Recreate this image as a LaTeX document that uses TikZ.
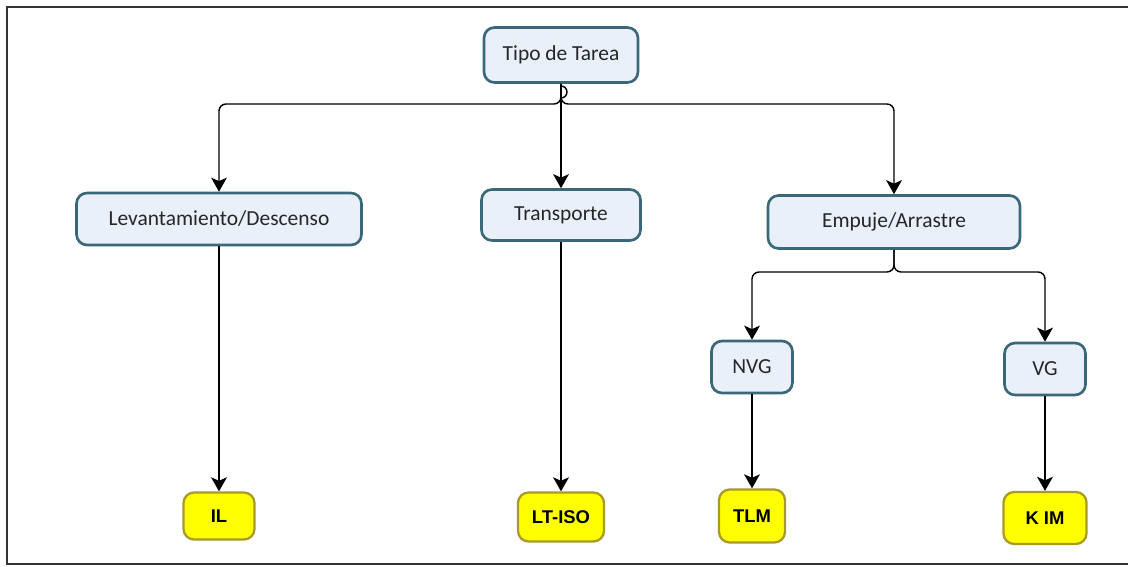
\documentclass[tikz,border=0pt]{standalone}
\usepackage{fontspec}
\newfontfamily\boxfont{Carlito}
\newfontfamily\tagfont{Liberation Sans}
\usetikzlibrary{arrows.meta, calc}
\definecolor{boxfill}{HTML}{EAF0FA}
\definecolor{boxline}{HTML}{3A6878}
\definecolor{tagfill}{HTML}{FFFF00}
\definecolor{tagline}{HTML}{A89A2A}
\tikzset{
  task/.style={draw=boxline, fill=boxfill, line width=1.5pt, rounded corners=6pt,
    font=\boxfont\fontsize{12.2}{14}\selectfont, text=black!85},
  result/.style={draw=tagline, fill=tagfill, line width=1.3pt, rounded corners=6pt,
    font=\tagfont\bfseries\fontsize{10.5}{12}\selectfont},
  link/.style={line width=0.8pt, rounded corners=4pt,
    -{Stealth[length=8pt,width=9pt,inset=2pt]}},
}

\begin{document}
\begin{tikzpicture}[x=0.02cm,y=-0.02cm]
% Page size in pixels of the reference
\useasboundingbox (0,0) rectangle (1132,567);
% Open frame round the chart
\draw[gray!40!black, line width=1.1pt] (1128,7) -- (7,7) -- (7,564) -- (1128,564);
% Top level
\node[task, minimum width=3.08cm, minimum height=1.1cm] (tipo) at (561,55) {Tipo de Tarea};
% Second level
\node[task, minimum width=5.7cm, minimum height=1.04cm] (lev) at (219,219) {Levantamiento/Descenso};
\node[task, minimum width=3.18cm, minimum height=1.02cm] (trans) at (561,215) {Transporte};
\node[task, minimum width=5.04cm, minimum height=1.06cm] (emp) at (894,222) {Empuje/Arrastre};
% Third level under Empuje/Arrastre
\node[task, minimum width=1.62cm, minimum height=1.04cm] (nvg) at (752,367) {NVG};
\node[task, minimum width=1.62cm, minimum height=1.04cm] (vg) at (1045,369) {VG};
% Methods
\node[result, minimum width=1.42cm, minimum height=0.94cm] (il) at (219,516) {IL};
\node[result, minimum width=1.72cm, minimum height=0.98cm] (ltiso) at (561,517) {LT-ISO};
\node[result, minimum width=1.32cm, minimum height=1.06cm] (tlm) at (752,516) {TLM};
\node[result, minimum width=1.66cm, minimum height=1.04cm] (kim) at (1045,518) {K IM};
% Branches from the task type
\coordinate (fork) at (561,104);
\draw[link] (tipo.south) |- (fork) -| (lev.north);
\draw[link] (tipo.south) -- (trans.north);
\draw[link] (tipo.south) |- (fork) -| (emp.north);
% Line jump where the branches cross
\draw[line width=0.8pt] ($(fork)+(0,-6)$) arc (90:-90:6);
% Branches under Empuje/Arrastre
\coordinate (fork2) at (894,272);
\draw[link] (emp.south) |- (fork2) -| (nvg.north);
\draw[link] (emp.south) |- (fork2) -| (vg.north);
% Down to the methods
\draw[link] (lev.south) -- (il.north);
\draw[link] (trans.south) -- (ltiso.north);
\draw[link] (nvg.south) -- (tlm.north);
\draw[link] (vg.south) -- (kim.north);
\end{tikzpicture}
\end{document}
